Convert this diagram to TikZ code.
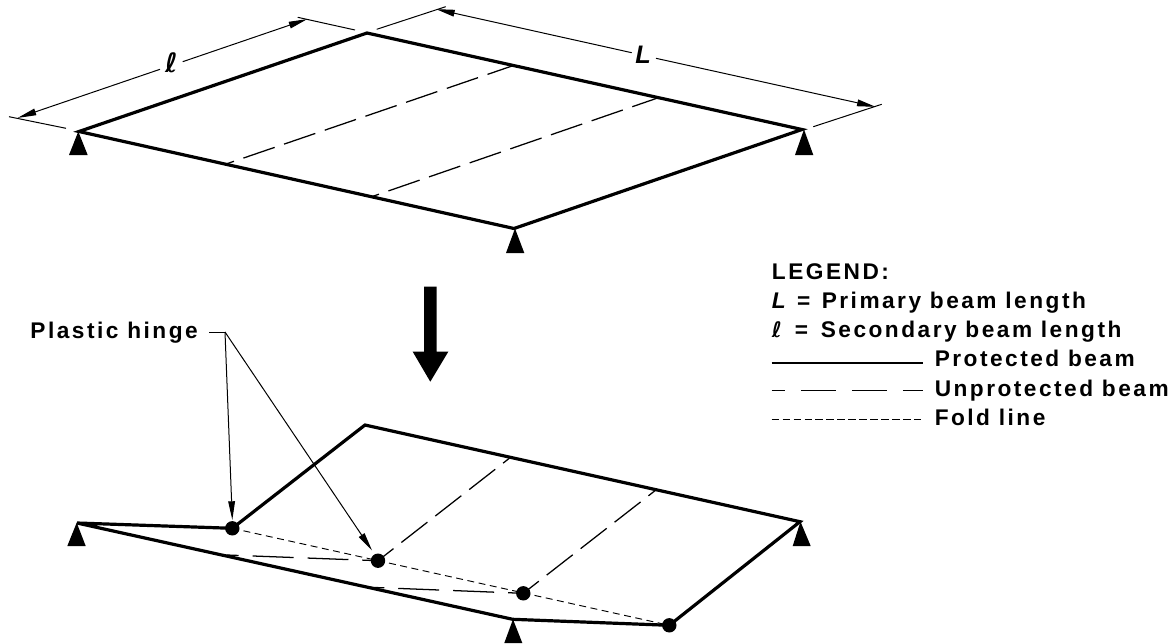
\documentclass[tikz,border=0pt]{standalone}
\usepackage{fontspec}
\setmainfont{Liberation Sans}[LetterSpace=11,BoldFont={Liberation Sans Bold}]
\newfontfamily\ellfont{DejaVu Sans}
\usetikzlibrary{arrows.meta}
\tikzset{
  prot/.style={line width=2.4pt,line join=miter,line cap=round},
  unprot/.style={line width=0.95pt,dash pattern=on 24.75pt off 7.5pt},
  unprotb/.style={line width=0.95pt,dash pattern=on 30.7pt off 10.5pt},
  fold/.style={line width=0.7pt,dash pattern=on 5.2pt off 3.4pt},
  thinl/.style={line width=0.75pt},
  tip/.style={-{Triangle[length=14pt,width=5pt]},line width=0.75pt,shorten >=-0.5pt},
  support/.style={fill=black,draw=none},
  hinge/.style={circle,fill=black,inner sep=0pt,minimum size=10.8pt},
  txt/.style={anchor=base west,inner sep=0pt,font=\fontsize{17}{20}\selectfont\bfseries},
  dimlab/.style={inner sep=0pt,font=\fontsize{19}{22}\selectfont\bfseries},
  pt/.style={coordinate}
}
\newcommand{\ellsym}{{\ellfont\bfseries\itshape ℓ}}
\begin{document}
\begin{tikzpicture}[x=0.75pt,y=-0.75pt]
\useasboundingbox (0,0) rectangle (1175,643);
% --- upper panel
\coordinate (A) at (79,131.5);
\coordinate (B) at (367,33);
\coordinate (C) at (802,129.5);
\coordinate (D) at (514,228.5);
\coordinate (u1a) at (226.7,163.8);
\coordinate (u1b) at (512,66);
\coordinate (u2a) at (371.7,196.7);
\coordinate (u2b) at (656.7,98.3);
\draw[prot] (A) -- (B) -- (C) -- (D) -- cycle;
\draw[unprot,dash phase=19pt] (u1a) -- (u1b);
\draw[unprot,dash phase=19pt] (u2a) -- (u2b);
\fill[support] (78.3,131.5) -- (87.7,155) -- (69,155) -- cycle;
\fill[support] (804,129.5) -- (813.3,155) -- (795,155) -- cycle;
\fill[support] (515,228.5) -- (524.3,253) -- (506,253) -- cycle;
% --- dimensions
\coordinate (e1a) at (66,128.3); \coordinate (e1b) at (9,116.7);
\coordinate (e2a) at (355,30); \coordinate (e2b) at (297.7,17.3);
\coordinate (e3a) at (376.7,29.3); \coordinate (e3b) at (445.7,6.7);
\coordinate (e4a) at (813.3,126.7); \coordinate (e4b) at (881.7,104.3);
\coordinate (t1) at (18.3,117.7); \coordinate (t2) at (306.7,19.3);
\coordinate (t3) at (436.7,9.3); \coordinate (t4) at (875,106.7);
\coordinate (g1a) at (160,69.3); \coordinate (g1b) at (182.7,61.7);
\coordinate (g2a) at (631.7,52.7); \coordinate (g2b) at (656,58.3);
\draw[thinl] (e1a) -- (e1b);
\draw[thinl] (e2a) -- (e2b);
\draw[thinl] (e3a) -- (e3b);
\draw[thinl] (e4a) -- (e4b);
\draw[tip] (g1a) -- (t1);
\draw[tip] (g1b) -- (t2);
\draw[tip] (g2a) -- (t3);
\draw[tip] (g2b) -- (t4);
\node[dimlab] (lablsmall) at (171.5,63) {\fontsize{20}{22}\selectfont\ellsym};
\node[dimlab] (labL) at (643,55) {\itshape L};
% --- big arrow
\fill (424,286.7) -- (436.7,286.7) -- (436.7,351.7) -- (448.3,351.7) -- (430.3,381.7) -- (412.7,351.7) -- (424,351.7) -- cycle;
% --- lower panel
\coordinate (Ap) at (77,523);
\coordinate (Bp) at (365,425);
\coordinate (Cp) at (800,521.7);
\coordinate (Dp) at (512.7,619.3);
\node[hinge] (h1) at (232.3,528.3) {};
\node[hinge] (h2) at (378,560.7) {};
\node[hinge] (h3) at (523.3,593.3) {};
\node[hinge] (h4) at (669.3,625.3) {};
\coordinate (d1) at (509.3,458.3);
\coordinate (d2) at (655,490.7);
\coordinate (d3) at (226.7,555);
\coordinate (d4) at (370,587.3);
\draw[fold] (h1.center) -- (h4.center);
\draw[unprot,dash phase=10pt] (h2.center) -- (d1);
\draw[unprot,dash phase=10pt] (h3.center) -- (d2);
\draw[unprotb,dash phase=21.7pt] (d3) -- (h2.center);
\draw[unprotb,dash phase=20pt] (d4) -- (h3.center);
\draw[prot] (h1.center) -- (Ap) -- (Dp) -- (h4.center) -- (Cp) -- (Bp) -- (h1.center);
\fill[support] (76.7,522.7) -- (85.7,546) -- (67.3,546) -- cycle;
\fill[support] (800.5,521.7) -- (810.7,546) -- (792.7,546) -- cycle;
\fill[support] (513,619.3) -- (522.3,643) -- (504.3,643) -- cycle;
% --- hinge callout
\node[txt,anchor=base east] (ph) at (198,338.5) {Plastic hinge};
\coordinate (k) at (225,332);
\coordinate (k0) at (209,332);
\draw[thinl] (k0) -- (k);
\draw[tip] (k) -- (232.3,519.3) coordinate (a1);
\draw[tip] (k) -- (371.7,550) coordinate (a2);
% --- legend
\node[txt] (leg0) at (771.7,279.3) {LEGEND:};
\node[txt] (leg1) at (771.7,308.3) {\textit{L} =\hspace{2pt} Primary beam length};
\node[txt] (leg2) at (771.7,337.7) {{\fontsize{16}{18}\selectfont\ellsym}\hspace{3pt} =\hspace{3pt} Secondary beam length};
\node[txt] (leg3) at (934.5,366.7) {Protected beam};
\node[txt] (leg4) at (934.5,396.7) {Unprotected beam};
\node[txt] (leg5) at (934.5,425) {Fold line};
\coordinate (s1a) at (771.7,363.3); \coordinate (s1b) at (923,363.3);
\coordinate (s2a) at (771.7,390); \coordinate (s2b) at (923,390);
\coordinate (s3a) at (771.7,419); \coordinate (s3b) at (923,419);
\draw[line width=1.5pt] (s1a) -- (s1b);
\draw[line width=0.7pt,dash pattern=on 26.5pt off 11.8pt,dash phase=16.5pt] (s2a) -- (s2b);
\draw[line width=0.55pt,dash pattern=on 5.7pt off 2.5pt] (s3a) -- (s3b);
\end{tikzpicture}
\end{document}
